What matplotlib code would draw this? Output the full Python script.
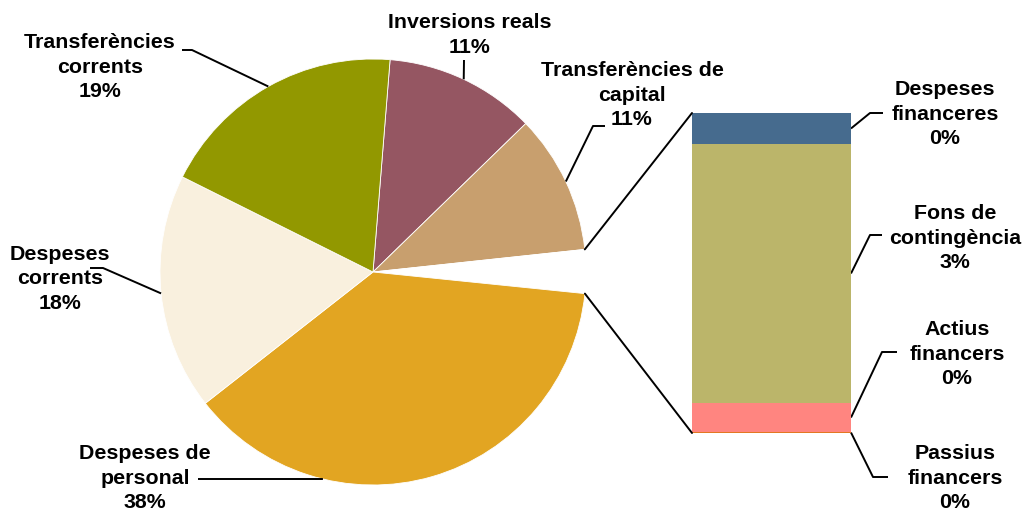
import numpy as np
import matplotlib
matplotlib.use("Agg")
import matplotlib.pyplot as plt
from matplotlib.patches import ConnectionPatch

plt.rcParams['font.family'] = ['Liberation Sans', 'DejaVu Sans']

# pie slices (percent of total), clockwise from the top
pie_labels = ['Inversions reals', 'Transferències de\ncapital', 'Altres',
              'Despeses de\npersonal', 'Despeses\ncorrents', 'Transferències\ncorrents']
pie_colors = ['#955662', '#C89F6E', '#FFFFFF', '#E2A522', '#F9F0DE', '#929800']

# bar of "Altres", bottom to top
bar_labels = ['Passius\nfinancers', 'Actius\nfinancers', 'Fons de\ncontingència', 'Despeses\nfinanceres']
bar_values = [0.01, 0.30, 2.68, 0.32]
bar_colors = ['#E27822', '#FF8580', '#BBB56A', '#466B8E']

pie_values = [11.45, 10.58, sum(bar_values), 37.81, 17.94, 18.91]

W, H = 1024, 511
fig = plt.figure(figsize=(W / 100, H / 100), dpi=100)
ax = fig.add_axes([0, 0, 1, 1])

cx, cy, r = 373, H - 272, 213
wedges, _ = ax.pie(pie_values, colors=pie_colors, startangle=85.4, counterclock=False,
                   center=(cx, cy), radius=r, frame=True,
                   wedgeprops=dict(linewidth=0.6, edgecolor='white'))
ax.set_xlim(0, W)
ax.set_ylim(0, H)
ax.axis('off')

# bar axes
bx0, by0, bw, bh = 692, 433, 159, 320
bax = fig.add_axes([bx0 / W, (H - by0) / H, bw / W, bh / H])
bottom = 0
bar_mids = []
for v, c in zip(bar_values, bar_colors):
    bax.bar(0, v, width=1, bottom=bottom, color=c, linewidth=0)
    bar_mids.append(bottom + v / 2)
    bottom += v
bax.set_xlim(-0.5, 0.5)
bax.set_ylim(0, sum(bar_values))
bax.axis('off')

# connectors from gap in pie to bar
other = wedges[2]
for ang, yb in [(other.theta2, 1), (other.theta1, 0)]:
    p = (cx + r * np.cos(np.radians(ang)), cy + r * np.sin(np.radians(ang)))
    con = ConnectionPatch(xyA=p, coordsA=ax.transData, xyB=(0, yb), coordsB=bax.transAxes,
                          color='black', lw=1.4)
    fig.add_artist(con)

pcts = [v / sum(pie_values) * 100 for v in pie_values]
bar_pcts = [v / sum(pie_values) * 100 for v in bar_values]

def top(y):
    return H - y

def label(text, tx, ty, knee, hend, pt):
    ax.text(tx, top(ty), text, ha='center', va='center', fontsize=15.4,
            fontweight='bold', linespacing=1.37)
    xs = [hend[0], knee[0], pt[0]]
    ys = [top(hend[1]), top(knee[1]), pt[1]]
    ax.plot(xs, ys, color='black', lw=1.4, solid_capstyle='butt')

# pie labels: (text centre, knee, horizontal end), in top-down pixels
pie_pos = {
    0: ((470, 35), (464, 60), (464, 60), None),
    1: ((632, 95), (593, 126), (605, 126), None),
    3: ((145, 478), (322, 479), (198, 479), -103.6),
    4: ((60, 279), (103, 268), (90, 268), None),
    5: ((100, 67), (192, 50), (182, 50), None),
}
for i, (tpos, knee, hend, ang) in pie_pos.items():
    w = wedges[i]
    if ang is None:
        ang = (w.theta1 + w.theta2) / 2
    pt = (cx + r * np.cos(np.radians(ang)), cy + r * np.sin(np.radians(ang)))
    label(f"{pie_labels[i]}\n{pcts[i]:.0f}%", tpos[0], tpos[1], knee, hend, pt)

bar_pos = [
    ((955, 478), (873, 477), (888, 477)),
    ((957, 354), (882, 352), (897, 352)),
    ((955, 238), (870, 235), (882, 235)),
    ((945, 114), (870, 113), (883, 113)),
]
for i, (tpos, knee, hend) in enumerate(bar_pos):
    pt = ax.transData.inverted().transform(bax.transData.transform((0.5, bar_mids[i])))
    label(f"{bar_labels[i]}\n{bar_pcts[i]:.0f}%", tpos[0], tpos[1], knee, hend, pt)

fig.savefig('out.png', dpi=100)
